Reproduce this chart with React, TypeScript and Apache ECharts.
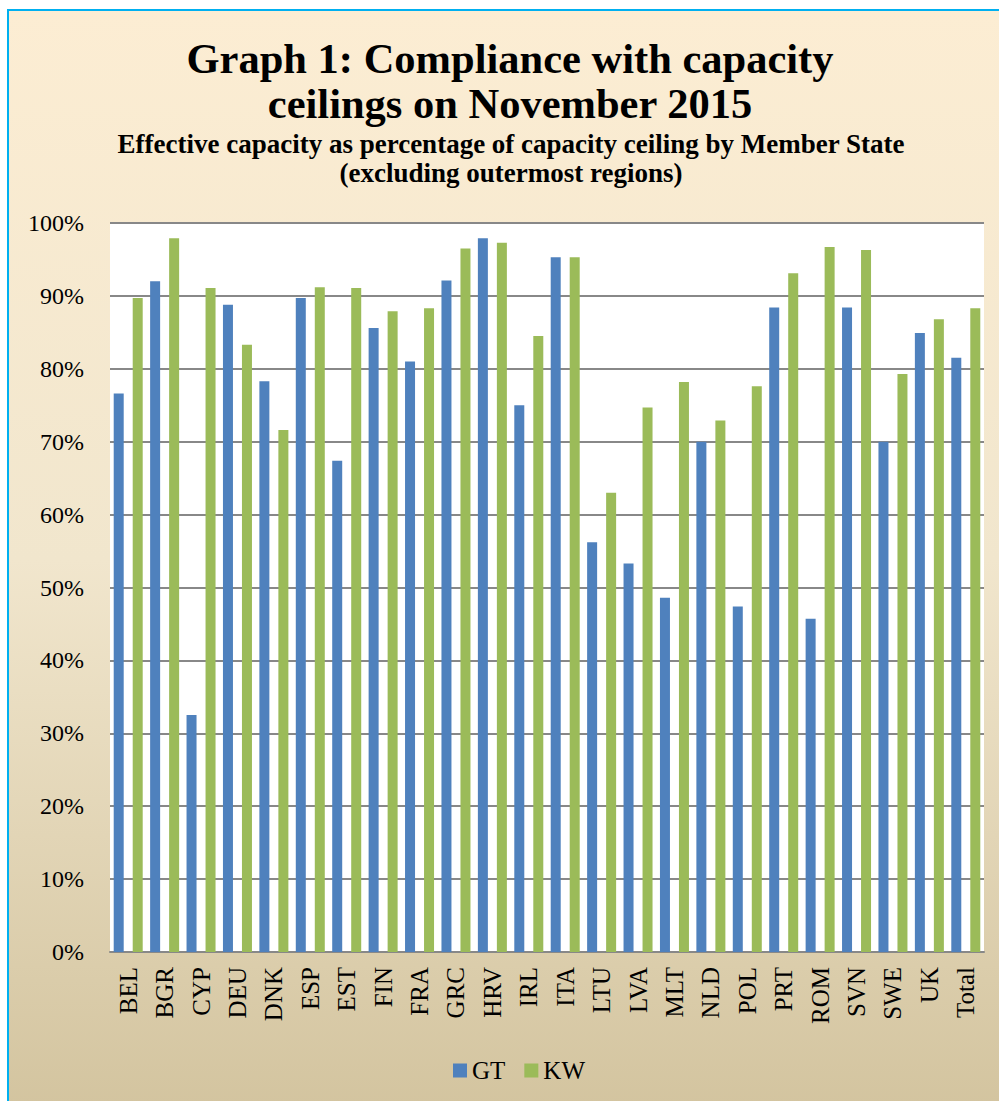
import React, { useEffect, useRef } from "react";
import * as echarts from "echarts";

const categories = ["BEL","BGR","CYP","DEU","DNK","ESP","EST","FIN","FRA","GRC","HRV","IRL","ITA","LTU","LVA","MLT","NLD","POL","PRT","ROM","SVN","SWE","UK","Total"];
const gtValues = [76.6, 92.0, 32.5, 88.8, 78.3, 89.7, 67.4, 85.6, 81.0, 92.1, 97.9, 75.0, 95.3, 56.2, 53.3, 48.6, 70.0, 47.4, 88.4, 45.7, 88.4, 70.0, 84.9, 81.5];
const kwValues = [89.7, 97.9, 91.1, 83.3, 71.6, 91.2, 91.1, 87.9, 88.3, 96.5, 97.3, 84.5, 95.3, 63.0, 74.7, 78.2, 72.9, 77.6, 93.1, 96.7, 96.3, 79.3, 86.8, 88.3];
const titleLines = ["Graph 1: Compliance with capacity", "ceilings on November 2015"];
const subtitleLines = ["Effective capacity as percentage of capacity ceiling by Member State", "(excluding outermost regions)"];

const FONT = "Liberation Serif";

export default function App() {
  const ref = useRef<HTMLDivElement>(null);
  useEffect(() => {
    if (!ref.current) return;
    const chart = echarts.init(ref.current, null, { renderer: "svg" });
    chart.setOption({
      animation: false,
      graphic: [
        {
          type: "rect",
          z: -10,
          silent: true,
          shape: { x: 8, y: 10, width: 1000, height: 1100 },
          style: {
            fill: new echarts.graphic.LinearGradient(0, 0, 0, 1, [
              { offset: 0, color: "#FCEDD3" },
              { offset: 0.5, color: "#F1E6CD" },
              { offset: 1, color: "#D3C49F" },
            ]),
            stroke: "#00B0F0",
            lineWidth: 2,
          },
        },
        { type: "text", x: 510, y: 58, style: { text: titleLines[0], font: `bold 42.5px ${FONT}`, fill: "#000", align: "center", verticalAlign: "middle" } },
        { type: "text", x: 510, y: 103, style: { text: titleLines[1], font: `bold 42.5px ${FONT}`, fill: "#000", align: "center", verticalAlign: "middle" } },
        { type: "text", x: 511, y: 144, style: { text: subtitleLines[0], font: `bold 27px ${FONT}`, fill: "#000", align: "center", verticalAlign: "middle" } },
        { type: "text", x: 511, y: 173, style: { text: subtitleLines[1], font: `bold 27px ${FONT}`, fill: "#000", align: "center", verticalAlign: "middle" } },
      ],
      legend: {
        left: 448,
        top: 1053,
        itemWidth: 14,
        itemHeight: 14,
        itemGap: 19,
        icon: "rect",
        textStyle: { fontFamily: FONT, fontSize: 25, color: "#000" },
        data: ["GT", "KW"],
      },
      grid: {
        left: 110,
        right: 15,
        top: 223,
        bottom: 149,
        show: true,
        backgroundColor: "#FFFFFF",
        borderWidth: 0,
      },
      xAxis: {
        type: "category",
        data: categories,
        axisLine: { show: true, lineStyle: { color: "#888888", width: 2 } },
        axisTick: { show: false },
        axisLabel: { rotate: 90, interval: 0, margin: 15, fontFamily: FONT, fontSize: 25, color: "#000" },
      },
      yAxis: {
        type: "value",
        min: 0,
        max: 100,
        interval: 10,
        axisLine: { show: false },
        axisTick: { show: false },
        splitLine: { lineStyle: { color: "#888888", width: 2 } },
        axisLabel: { formatter: "{value}%", margin: 26, fontFamily: FONT, fontSize: 24, color: "#000" },
      },
      series: [
        { name: "GT", type: "bar", data: gtValues, barWidth: 10, barGap: "90%", itemStyle: { color: "#4F81BD" } },
        { name: "KW", type: "bar", data: kwValues, barWidth: 10, barGap: "90%", itemStyle: { color: "#9BBB59" } },
      ],
    });
    return () => chart.dispose();
  }, []);
  return <div ref={ref} style={{ position: "fixed", left: 0, top: 0, width: 999, height: 1101, background: "#fff" }} />;
}
